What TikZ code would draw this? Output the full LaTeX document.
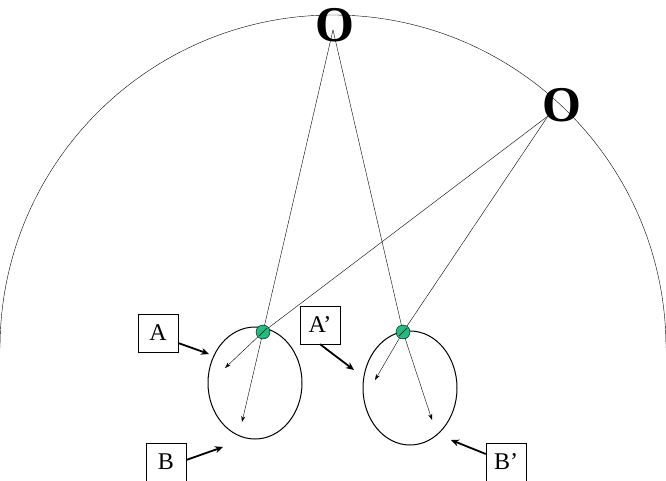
\documentclass[tikz,border=0pt]{standalone}
\usepackage{fontspec}
\setmainfont{Liberation Serif}
\usetikzlibrary{arrows.meta}
\definecolor{eyegreen}{RGB}{30,190,130}
\tikzset{
  lbl/.style={draw, fill=white, minimum width=40pt, minimum height=38pt, font=\fontsize{24}{26}\selectfont},
  ray/.style={-{Stealth[length=6pt,width=4pt]}, thin},
  pointer/.style={-{Stealth[length=8pt,width=7pt]}, line width=1.8pt},
  bigo/.style={font=\fontsize{50}{50}\selectfont\bfseries, inner sep=0pt}
}
\begin{document}
\begin{tikzpicture}[x=1pt,y=-1pt]
\useasboundingbox (0,0) rectangle (666,481);

% Horizon arc
\draw[thin] (0,348) arc[start angle=180, end angle=360, radius=333];

% Sources
\node[bigo] (otop) at (335,25) {O};
\node[bigo] (oright) at (562,105) {O};
\coordinate (srctop) at (333,30);
\coordinate (srcright) at (548,116);

% Eyes
\draw[line width=1pt] (255,383) ellipse (47 and 56);
\draw[line width=1pt] (410,388) ellipse (47 and 57);

% Rays
\coordinate (pl) at (263,332);
\coordinate (pr) at (403,332);
\coordinate (al) at (225,368);
\coordinate (bl) at (242,422);
\coordinate (ar) at (375,380);
\coordinate (br) at (432,420);
\draw[ray] (srctop) -- (pl) -- (bl);
\draw[ray] (srctop) -- (pr) -- (br);
\draw[ray] (srcright) -- (pl) -- (al);
\draw[ray] (srcright) -- (pr) -- (ar);
\fill[eyegreen] (pl) circle (7pt);
\fill[eyegreen] (pr) circle (7pt);
\draw (pl) circle (7pt) (pr) circle (7pt);
\draw (259,336) -- (267,328) (399,336) -- (407,328);

% Labels
\node[lbl] (A) at (158,333) {A};
\node[lbl] (Ap) at (320,325) {A'};
\node[lbl] (B) at (166,462) {B};
\node[lbl] (Bp) at (506,462) {B'};
\coordinate (ta) at (209,354);
\coordinate (tap) at (354,370);
\coordinate (tb) at (223,447);
\coordinate (tbp) at (451,440);
\draw[pointer] (A.east) ++(0,10) -- (ta);
\draw[pointer] (Ap.south) ++(0,0) -- (tap);
\draw[pointer] (B.east) ++(0,-2) -- (tb);
\draw[pointer] (Bp.west) ++(0,-8) -- (tbp);
\end{tikzpicture}
\end{document}
